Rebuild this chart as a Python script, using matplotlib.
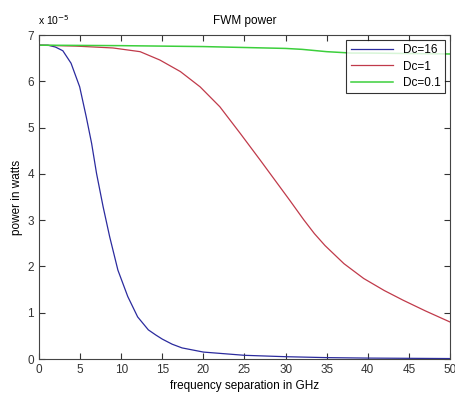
import matplotlib.pyplot as plt
import numpy as np

plt.rcParams['font.family'] = ['Liberation Sans', 'DejaVu Sans']

# values (power in units of 1e-5 W)
x_blue = [0, 1.1, 2.0, 2.9, 3.9, 4.95, 5.75, 6.4, 7.0, 7.8, 8.6, 9.6, 10.8, 12.0, 13.3, 14.2, 15, 16.2, 17.4, 20, 25, 30, 35, 40, 45, 50]
y_blue = [6.78, 6.78, 6.74, 6.66, 6.39, 5.88, 5.23, 4.66, 4.01, 3.29, 2.64, 1.92, 1.35, 0.91, 0.63, 0.52, 0.43, 0.32, 0.24, 0.15, 0.08, 0.05, 0.03, 0.02, 0.015, 0.01]

x_red = [0, 4.5, 9, 12.3, 14.7, 17.2, 19.6, 22, 24.5, 26.9, 29.3, 30.5, 32.2, 33.5, 34.8, 37.1, 39.5, 42, 44.3, 47, 50]
y_red = [6.78, 6.76, 6.72, 6.64, 6.46, 6.21, 5.88, 5.45, 4.87, 4.30, 3.72, 3.43, 3.01, 2.71, 2.45, 2.06, 1.74, 1.48, 1.27, 1.04, 0.80]

x_green = [0, 10, 20, 25, 30, 32, 35, 38, 40, 45, 50]
y_green = [6.78, 6.77, 6.75, 6.73, 6.71, 6.69, 6.64, 6.61, 6.61, 6.60, 6.59]

labels = ["Dc=16", "Dc=1", "Dc=0.1"]

fig = plt.figure(figsize=(4.55, 3.96), dpi=100)
ax = fig.add_axes([0.0857, 0.0934, 0.9033, 0.8182])

ax.plot(x_blue, y_blue, color='#2b2b9e', lw=0.9, label=labels[0])
ax.plot(x_red, y_red, color='#c03a4a', lw=0.9, label=labels[1])
ax.plot(x_green, y_green, color='#3ccf3c', lw=1.1, label=labels[2])

ax.set_xlim(0, 50)
ax.set_ylim(0, 7)
ax.set_xticks(np.arange(0, 51, 5))
ax.set_yticks(np.arange(0, 8, 1))
ax.tick_params(direction='in', top=True, right=True, length=4, labelsize=8.5, colors='#333333', width=0.8)
for s in ax.spines.values():
    s.set_color('#444444')
    s.set_linewidth(0.8)

ax.set_title("FWM power", fontsize=8.5, pad=8)
ax.set_xlabel("frequency separation in GHz", fontsize=8.5, labelpad=3)
ax.set_ylabel("power in watts", fontsize=8.5, labelpad=3)
ax.text(-0.002, 1.025, r"x 10$^{-5}$", transform=ax.transAxes, fontsize=7.5, va='bottom', ha='left')

leg = ax.legend(loc='upper right', fontsize=8.5, frameon=True, fancybox=False,
                edgecolor='black', borderaxespad=0.4, handlelength=3.6, labelspacing=0.35)
leg.get_frame().set_linewidth(0.8)

plt.savefig("out.png", dpi=100)
